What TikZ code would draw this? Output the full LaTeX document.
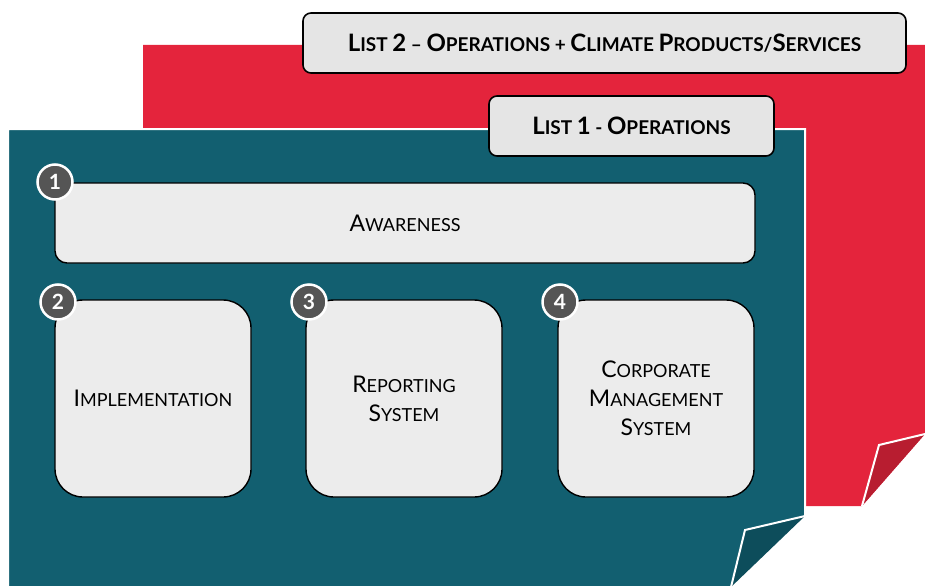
\documentclass[tikz,border=0pt]{standalone}
\usepackage{fontspec}
\setmainfont{Lato}
\definecolor{sheetred}{HTML}{E4243C}
\definecolor{flapred}{HTML}{B81D30}
\definecolor{sheetteal}{HTML}{125F70}
\definecolor{flapteal}{HTML}{0D4D5B}
\definecolor{boxgray}{HTML}{ECECEC}
\definecolor{titlegray}{HTML}{E5E5E5}
\definecolor{numgray}{HTML}{555555}
% first letter big, rest in small caps size
\newcommand\kc[2]{{\fontsize{23}{29}\selectfont #1}#2}
\newcommand\kcb[2]{{\fontsize{24}{29}\selectfont #1}#2}
\tikzset{
  titlebox/.style={draw=black, line width=1.6pt, fill=titlegray, rounded corners=8pt,
    font=\bfseries\fontsize{19}{29}\selectfont},
  itembox/.style={draw=black, line width=1.4pt, fill=boxgray, align=center,
    font=\fontsize{18}{29}\selectfont},
  numdot/.style={circle, draw=white, line width=2.5pt, fill=numgray, text=white,
    minimum size=35pt, inner sep=0pt, font=\bfseries\fontsize{21}{21}\selectfont}
}
\begin{document}
\begin{tikzpicture}[x=1pt,y=-1pt]
\useasboundingbox (0,0) rectangle (925,586);
% back sheet
\fill[sheetred](143,45)--(925,45)--(925,434)--(862,506)--(143,506)--cycle;
\fill[flapred](925,434)--(879,445)--(862,506)--cycle;
\draw[white, line width=2pt](925,434)--(879,445)--(862,506);
% front sheet
\filldraw[fill=sheetteal, draw=white, line width=2pt](8,129)--(805,129)--(805,516)--(731,587)--(8,587)--cycle;
\fill[flapteal](805,516)--(745,530)--(731,587)--cycle;
\draw[white, line width=2pt](805,516)--(745,530)--(731,587);

\node[titlebox, minimum width=603pt, minimum height=60pt] (list2) at (604.5,43)
  {\kcb{L}{IST} \kcb{2}{} – \kcb{O}{PERATIONS} + \kcb{C}{LIMATE} \kcb{P}{RODUCTS}/\kcb{S}{ERVICES}};
\node[titlebox, minimum width=285pt, minimum height=60pt] (list1) at (631.5,126)
  {\kcb{L}{IST} \kcb{1}{} - \kcb{O}{PERATIONS}};

\node[itembox, rounded corners=12pt, minimum width=700pt, minimum height=80pt] (aware) at (405,223) {\kc{A}{WARENESS}};
\node[itembox, rounded corners=28pt, minimum width=196pt, minimum height=197pt] (impl) at (153,398.5) {\kc{I}{MPLEMENTATION}};
\node[itembox, rounded corners=28pt, minimum width=196pt, minimum height=197pt] (report) at (404,398.5) {\kc{R}{EPORTING}\\\kc{S}{YSTEM}};
\node[itembox, rounded corners=28pt, minimum width=196pt, minimum height=197pt] (corp) at (656,398.5) {\kc{C}{ORPORATE}\\\kc{M}{ANAGEMENT}\\\kc{S}{YSTEM}};

\node[numdot] (n1) at (55,182) {1};
\node[numdot] (n2) at (58,302) {2};
\node[numdot] (n3) at (309,302) {3};
\node[numdot] (n4) at (560,302) {4};
\end{tikzpicture}
\end{document}
